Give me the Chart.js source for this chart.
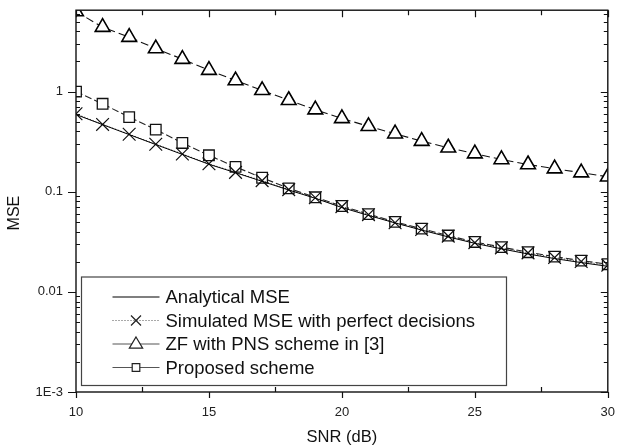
<!DOCTYPE html>
<html>
<head>
<meta charset="utf-8">
<title>MSE vs SNR</title>
<script src="https://cdn.jsdelivr.net/npm/chart.js@4.4.1/dist/chart.umd.min.js"></script>
<style>
	html, body { margin: 0; padding: 0; background: #fff; }
	#wrap { width: 618px; height: 447px; position: relative; }
</style>
</head>
<body>
<div id="wrap"><canvas id="mse-chart"></canvas></div>
<script>
// SNR axis (dB).
const snr = [10, 11, 12, 13, 14, 15, 16, 17, 18, 19, 20, 21, 22, 23, 24, 25, 26, 27, 28, 29, 30];

// Series values.
const analyticalMse = [0.59, 0.468, 0.372, 0.296, 0.236, 0.188, 0.155, 0.127, 0.104, 0.086, 0.0695, 0.058, 0.0488, 0.0414, 0.0354, 0.0305, 0.0269, 0.0239, 0.0215, 0.0196, 0.018];
const simulatedMse = [0.6, 0.47, 0.375, 0.298, 0.238, 0.19, 0.156, 0.129, 0.105, 0.087, 0.071, 0.059, 0.049, 0.042, 0.036, 0.031, 0.0275, 0.0245, 0.022, 0.0201, 0.0185];
const zfPns = [6.3, 4.4, 3.5, 2.69, 2.11, 1.64, 1.29, 1.03, 0.82, 0.66, 0.54, 0.45, 0.38, 0.32, 0.275, 0.24, 0.21, 0.187, 0.17, 0.155, 0.141];
const proposed = [1.0, 0.755, 0.556, 0.417, 0.307, 0.231, 0.177, 0.138, 0.108, 0.088, 0.072, 0.0598, 0.05, 0.0428, 0.0365, 0.0315, 0.028, 0.0249, 0.0225, 0.0205, 0.0189];

// Tick labels.
const xTickValues = [10, 15, 20, 25, 30];
const yTickValues = [0.001, 0.01, 0.1, 1];
const yTickLabels = ['1E-3', '0.01', '0.1', '1'];

const seriesNames = [
	'Analytical MSE',
	'Simulated MSE with perfect decisions',
	'ZF with PNS scheme in [3]',
	'Proposed scheme'
];

(function() {
	'use strict';

	const FONT = "'Liberation Sans', Arial, Helvetica, sans-serif";
	const INK = '#111';

	// Frame, mirrored ticks and minor ticks, placed through the scales.
	const framePlugin = {
		id: 'frameTicks',
		afterDatasetsDraw: function(chart) {
			const ctx = chart.ctx;
			const a = chart.chartArea;
			const xs = chart.scales.x;
			const ys = chart.scales.y;

			ctx.save();
			ctx.strokeStyle = INK;
			ctx.lineWidth = 1.4;
			ctx.strokeRect(a.left, a.top, a.right - a.left, a.bottom - a.top);

			ctx.lineWidth = 1.2;
			ctx.beginPath();

			// X: majors out at the bottom, minors in; all in at the top.
			for (let v = xs.min; v <= xs.max + 0.001; v += 2.5) {
				const px = Math.round(xs.getPixelForValue(v)) + 0.5;
				const major = xTickValues.indexOf(v) !== -1;
				if (major) {
					ctx.moveTo(px, a.bottom);
					ctx.lineTo(px, a.bottom + 6);
				} else {
					ctx.moveTo(px, a.bottom);
					ctx.lineTo(px, a.bottom - 5);
				}
				ctx.moveTo(px, a.top);
				ctx.lineTo(px, a.top + (major ? 7 : 5));
			}

			// Y: decades out on the left, minors in; all in on the right.
			for (let e = -3; e <= 0; e++) {
				for (let m = 1; m <= 9; m++) {
					const v = m * Math.pow(10, e);
					if (v > ys.max) {
						break;
					}
					const py = Math.round(ys.getPixelForValue(v)) + 0.5;
					if (m === 1) {
						ctx.moveTo(a.left - 8, py);
						ctx.lineTo(a.left, py);
						ctx.moveTo(a.right, py);
						ctx.lineTo(a.right - 7, py);
					} else {
						ctx.moveTo(a.left, py);
						ctx.lineTo(a.left + 4, py);
						ctx.moveTo(a.right, py);
						ctx.lineTo(a.right - 4, py);
					}
				}
			}
			ctx.stroke();

			// Y axis title.
			ctx.fillStyle = INK;
			ctx.font = '16px ' + FONT;
			ctx.textAlign = 'center';
			ctx.textBaseline = 'middle';
			ctx.translate(15, (a.top + a.bottom) / 2 + 12);
			ctx.rotate(-Math.PI / 2);
			ctx.fillText('MSE', 0, 0);
			ctx.restore();
		}
	};

	function drawMarker(ctx, style, x, y, size) {
		ctx.beginPath();
		if (style === 'crossRot') {
			ctx.moveTo(x - size, y - size);
			ctx.lineTo(x + size, y + size);
			ctx.moveTo(x + size, y - size);
			ctx.lineTo(x - size, y + size);
			ctx.stroke();
			return;
		}
		if (style === 'triangle') {
			ctx.moveTo(x, y - size);
			ctx.lineTo(x + size * 0.95, y + size * 0.6);
			ctx.lineTo(x - size * 0.95, y + size * 0.6);
			ctx.closePath();
		} else {
			ctx.rect(x - size, y - size, size * 2, size * 2);
		}
		ctx.fillStyle = '#fff';
		ctx.fill();
		ctx.stroke();
	}

	// Boxed legend in the lower left of the plot.
	const legendPlugin = {
		id: 'boxLegend',
		afterDraw: function(chart) {
			const ctx = chart.ctx;
			const a = chart.chartArea;
			const left = a.left + 5.5;
			const bottom = a.bottom - 6.5;
			const top = bottom - 108.5;
			const right = left + 425;
			const samples = [
				{ dash: [], color: '#000', marker: null, size: 0 },
				{ dash: [1, 2], color: '#555', marker: 'crossRot', size: 5 },
				{ dash: [], color: '#555', marker: 'triangle', size: 7 },
				{ dash: [], color: '#555', marker: 'rect', size: 3.8 }
			];

			ctx.save();
			ctx.fillStyle = '#fff';
			ctx.fillRect(left, top, right - left, bottom - top);
			ctx.strokeStyle = '#444';
			ctx.lineWidth = 1.2;
			ctx.strokeRect(left, top, right - left, bottom - top);

			ctx.font = '18.5px ' + FONT;
			ctx.textAlign = 'left';
			ctx.textBaseline = 'middle';

			seriesNames.forEach(function(name, i) {
				const y = top + 20 + i * 23.5;
				const s = samples[i];
				ctx.strokeStyle = s.color;
				ctx.lineWidth = 1.1;
				ctx.setLineDash(s.dash);
				ctx.beginPath();
				ctx.moveTo(left + 31, y);
				ctx.lineTo(left + 78, y);
				ctx.stroke();
				ctx.setLineDash([]);
				if (s.marker) {
					ctx.strokeStyle = '#222';
					ctx.lineWidth = 1.2;
					drawMarker(ctx, s.marker, left + 54.5, y, s.size);
				}
				ctx.fillStyle = INK;
				ctx.fillText(name, left + 84, y + 1);
			});
			ctx.restore();
		}
	};

	function toPoints(values) {
		return values.map(function(v, i) {
			return { x: snr[i], y: v };
		});
	}

	// Drop the extra room Chart.js keeps for edge tick labels.
	function noEdgePadding(scale) {
		scale.paddingTop = 0;
		scale.paddingBottom = 0;
		scale.paddingLeft = 0;
		scale.paddingRight = 0;
	}

	document.addEventListener('DOMContentLoaded', function() {
		const canvas = document.getElementById('mse-chart');

		new Chart(canvas, {
			type: 'line',
			data: {
				datasets: [
					{
						label: seriesNames[0],
						data: toPoints(analyticalMse),
						borderColor: '#000',
						borderWidth: 1,
						pointRadius: 0,
						clip: 0,
					},
					{
						label: seriesNames[1],
						data: toPoints(simulatedMse),
						borderColor: '#333',
						borderWidth: 1,
						borderDash: [1, 2],
						pointStyle: 'crossRot',
						pointRadius: 9,
						pointBorderColor: '#111',
						pointBorderWidth: 1.2,
						clip: 0,
					},
					{
						label: seriesNames[2],
						data: toPoints(zfPns),
						borderColor: '#111',
						borderWidth: 1.1,
						borderDash: [8, 4],
						pointStyle: 'triangle',
						pointRadius: 8.5,
						pointBackgroundColor: '#fff',
						pointBorderColor: '#000',
						pointBorderWidth: 1.6,
						clip: 0,
					},
					{
						label: seriesNames[3],
						data: toPoints(proposed),
						borderColor: '#222',
						borderWidth: 1.1,
						borderDash: [7, 3],
						pointStyle: 'rect',
						pointRadius: 7.5,
						pointBackgroundColor: '#fff',
						pointBorderColor: '#111',
						pointBorderWidth: 1.3,
						clip: 0,
					}
				]
			},
			options: {
				responsive: true,
				maintainAspectRatio: false,
				animation: false,
				events: [],
				layout: {
					padding: { top: 8, right: 9, left: 0, bottom: 0 }
				},
				plugins: {
					legend: { display: false },
					tooltip: { enabled: false }
				},
				scales: {
					x: {
						type: 'linear',
						min: 10,
						max: 30,
						bounds: 'data',
						grid: { display: false, drawTicks: false },
						border: { display: false },
						afterBuildTicks: function(scale) {
							scale.ticks = xTickValues.map(function(v) {
								return { value: v };
							});
						},
						afterFit: function(scale) {
							scale.height = 55;
							noEdgePadding(scale);
						},
						ticks: {
							padding: 13,
							color: '#222',
							maxRotation: 0,
							font: { size: 13, family: FONT }
						},
						title: {
							display: true,
							text: 'SNR (dB)',
							color: INK,
							padding: 0,
							font: { size: 16.5, family: FONT }
						}
					},
					y: {
						type: 'logarithmic',
						min: 0.001,
						max: 6.5,
						bounds: 'data',
						grid: { display: false, drawTicks: false },
						border: { display: false },
						afterBuildTicks: function(scale) {
							scale.ticks = yTickValues.map(function(v) {
								return { value: v };
							});
						},
						afterFit: function(scale) {
							scale.width = 76;
							noEdgePadding(scale);
						},
						ticks: {
							padding: 13,
							color: '#222',
							font: { size: 13, family: FONT },
							callback: function(value) {
								const i = yTickValues.indexOf(value);
								return i === -1 ? '' : yTickLabels[i];
							}
						}
					}
				}
			},
			plugins: [framePlugin, legendPlugin]
		});
	});
})();
</script>
</body>
</html>
